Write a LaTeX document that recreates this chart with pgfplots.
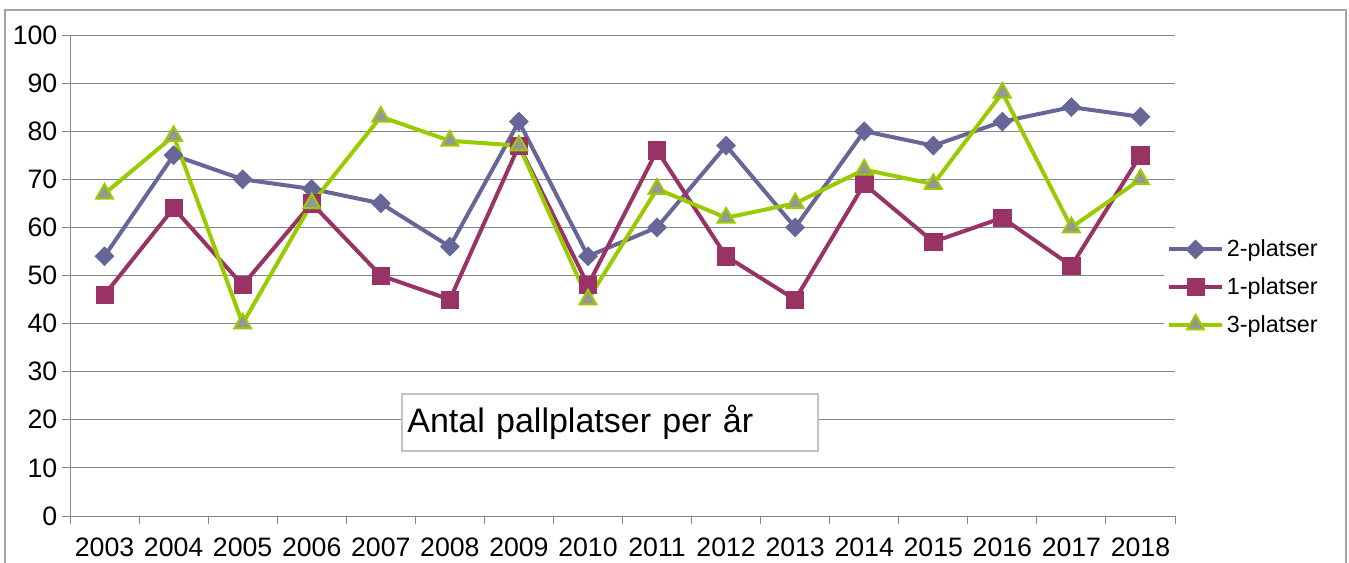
\documentclass[border=0pt]{standalone}
\usepackage{fontspec}
\setmainfont{Liberation Sans}
\usepackage{pgfplots}
\pgfplotsset{compat=1.18}
\definecolor{cblue}{RGB}{102,102,153}
\definecolor{cred}{RGB}{153,51,102}
\definecolor{cgreen}{RGB}{153,204,0}
\definecolor{mgray}{RGB}{150,150,150}
\definecolor{gridgray}{RGB}{134,134,134}
\definecolor{framegray}{RGB}{165,165,165}
\definecolor{titlegray}{RGB}{195,195,195}
\begin{document}
\begin{tikzpicture}
\useasboundingbox (0,0) rectangle (1011.75pt,421.5pt);
\draw[framegray, line width=1.5pt] (3.75pt,-10pt) -- (3.75pt,414pt) -- (1009.5pt,414pt) -- (1009.5pt,-10pt);
\begin{axis}[
  at={(52.5pt,34.5pt)}, anchor=south west,
  scale only axis, width=828.75pt, height=360.75pt,
  xmin=-0.5, xmax=15.5, ymin=0, ymax=100,
  enlargelimits=false, clip=false,
  axis lines=left,
  axis line style={-, draw=gridgray, line width=0.75pt},
  ytick={0,10,...,100},
  ymajorgrids, grid style={gridgray, line width=0.75pt},
  xtick={0,...,15},
  xticklabels={2003,2004,2005,2006,2007,2008,2009,2010,2011,2012,2013,2014,2015,2016,2017,2018},
  major x tick style={draw=none},
  minor xtick={-0.5,0.5,...,15.5},
  tick align=outside, major tick length=6pt, minor tick length=6pt,
  tick style={gridgray, line width=0.75pt},
  ticklabel style={font=\fontsize{20}{22}\selectfont, text=black},
  /pgf/number format/assume math mode=true,
  xticklabel style={yshift=-7pt},
  legend style={at={(0.99,0.476)}, anchor=west, draw=none, fill=white,
    font=\fontsize{17.5}{20}\selectfont, row sep=10pt, inner xsep=2pt, inner ysep=2pt,
    cells={anchor=west}},
  legend image code/.code={\draw[mark repeat=2,mark phase=2,#1] plot coordinates {(0pt,0pt) (20pt,0pt) (40pt,0pt)};},
]
\addplot[cblue, line width=3pt, mark=square*, mark size=5pt,
  mark options={rotate=45, fill=cblue, draw=cblue, line width=0.5pt}]
  coordinates {(0,54) (1,75) (2,70) (3,68) (4,65) (5,56) (6,82) (7,54) (8,60) (9,77) (10,60) (11,80) (12,77) (13,82) (14,85) (15,83)};
\addlegendentry{2-platser}
\addplot[cred, line width=3pt, mark=square*, mark size=6.5pt,
  mark options={fill=cred, draw=cred, line width=0.5pt}]
  coordinates {(0,46) (1,64) (2,48) (3,65) (4,50) (5,45) (6,77) (7,48) (8,76) (9,54) (10,45) (11,69) (12,57) (13,62) (14,52) (15,75)};
\addlegendentry{1-platser}
\addplot[cgreen, line width=3pt, mark=triangle*, mark size=7.3pt,
  mark options={fill=mgray, draw=cgreen, line width=1.5pt}]
  coordinates {(0,67) (1,79) (2,40) (3,65) (4,83) (5,78) (6,77) (7,45) (8,68) (9,62) (10,65) (11,72) (12,69) (13,88) (14,60) (15,70)};
\addlegendentry{3-platser}
\node[draw=titlegray, line width=1.5pt, fill=white, anchor=north west,
  minimum width=312pt, minimum height=42.75pt, inner xsep=4pt, text width=304pt,
  align=left, font=\fontsize{25.5}{30}\selectfont] at (axis cs:4.293,25.57) {Antal pallplatser per år};
\end{axis}
\end{tikzpicture}
\end{document}
